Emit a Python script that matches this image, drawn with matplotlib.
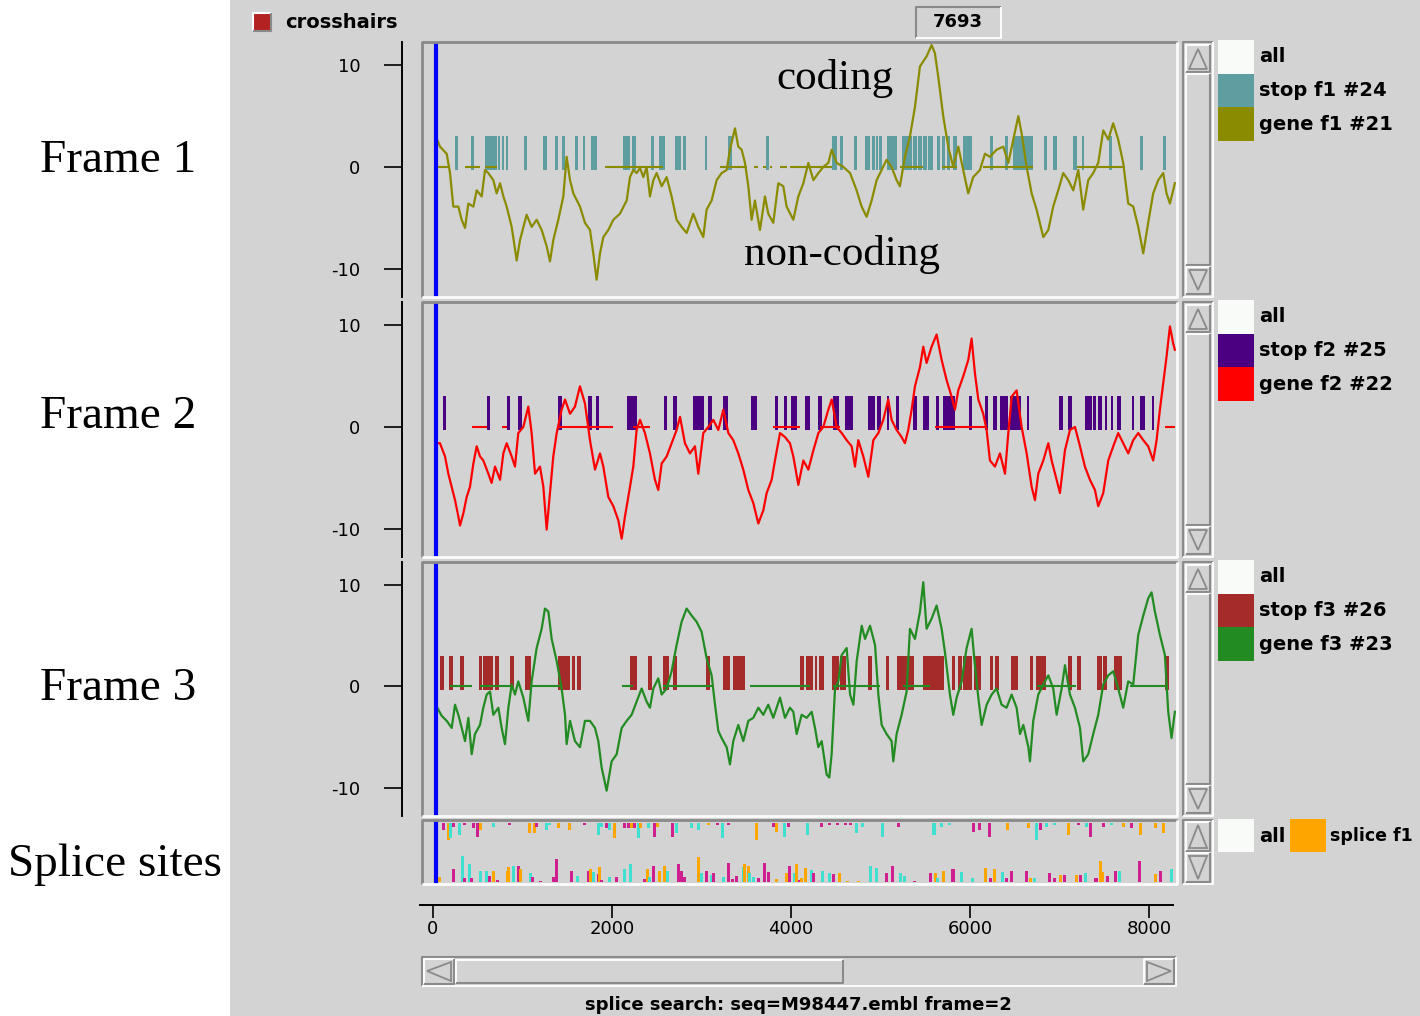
import matplotlib
matplotlib.use("Agg")
import matplotlib.pyplot as plt
import matplotlib.patches as patches

W, H = 1420, 1016
plt.rcParams['axes.unicode_minus'] = False
plt.rcParams['font.family'] = ['DejaVu Sans']

# ---- data (positions in bp) ----
cross_x = 34

f1_trace = [(41, 2.8), (78, 2.0), (153, 1.3), (190, -0.6), (227, -3.9), (283, -3.9), (320, -5.2), (358, -6.0),
            (395, -3.6), (451, -3.9), (488, -2.3), (544, -2.9), (581, -0.3), (618, -0.6), (674, -1.3), (711, -2.6),
            (749, -1.6), (786, -2.9), (823, -3.9), (879, -5.9), (935, -9.2), (972, -7.2), (1046, -4.7), (1102, -5.9),
            (1158, -5.2), (1214, -6.2), (1270, -7.8), (1307, -9.3), (1344, -7.2), (1400, -5.2), (1456, -2.9),
            (1493, 1.0), (1531, -1.3), (1568, -2.6), (1642, -3.9), (1698, -5.5), (1754, -6.2), (1791, -8.5),
            (1828, -11.1), (1866, -8.5), (1903, -6.9), (1959, -6.2), (2015, -5.2), (2089, -4.6), (2164, -3.3),
            (2201, -1.0), (2238, -0.3), (2275, -0.6), (2313, -0.1), (2350, -1.0), (2387, 0.0), (2424, -2.9),
            (2462, -1.3), (2499, -0.6), (2555, -1.9), (2611, -1.0), (2666, -2.9), (2722, -5.2), (2778, -5.9),
            (2834, -6.5), (2908, -4.6), (2964, -5.9), (3020, -6.9), (3057, -4.2), (3113, -3.3), (3169, -1.3),
            (3225, -0.6), (3281, -0.3), (3318, 1.7), (3374, 3.8), (3411, 2.0), (3448, 1.7), (3486, 0.4),
            (3523, -1.9), (3560, -5.2), (3597, -3.3), (3653, -6.2), (3709, -2.9), (3746, -4.6), (3802, -5.5),
            (3858, -1.6), (3914, -1.9), (3951, -3.9), (4026, -5.2), (4082, -2.9), (4138, -1.6), (4194, 0.4),
            (4250, -1.3), (4306, -0.6), (4361, 0.0), (4417, 0.4), (4455, 1.7), (4510, 0.4), (4585, 0.0),
            (4660, -0.6), (4733, -2.3), (4789, -3.9), (4845, -4.9), (4901, -3.3), (4957, -1.3), (5013, -0.3),
            (5068, 0.7), (5124, 0.0), (5180, -1.3), (5217, -1.9), (5273, 1.0), (5329, 3.0), (5385, 5.9),
            (5441, 9.9), (5516, 10.9), (5571, 12.0), (5608, 11.2), (5645, 8.9), (5701, 5.0), (5757, 2.0),
            (5813, 0.0), (5869, 2.0), (5925, -0.3), (5980, -2.6), (6036, -1.0), (6111, -0.3), (6167, 1.3),
            (6223, 1.0), (6297, 1.7), (6372, 2.0), (6428, 0.4), (6484, 2.7), (6540, 5.0), (6577, 3.3), (6633, 0.0),
            (6689, -2.6), (6744, -4.2), (6819, -6.9), (6875, -6.2), (6930, -3.9), (6986, -2.3), (7042, -0.6),
            (7098, -1.3), (7154, -2.3), (7210, -0.3), (7265, -4.2), (7321, -1.3), (7377, -0.6), (7433, 0.4),
            (7489, 3.6), (7545, 2.7), (7600, 4.3), (7656, 2.7), (7712, 0.4), (7768, -3.6), (7824, -3.9),
            (7880, -5.9), (7936, -8.5), (7991, -5.5), (8047, -2.6), (8103, -1.3), (8159, -0.6), (8196, -2.6),
            (8234, -3.6), (8289, -1.6)]

f2_trace = [(48, -1.6), (78, -1.6), (134, -2.9), (171, -4.6), (209, -5.9), (246, -7.2), (283, -8.8), (302, -9.7),
            (339, -8.5), (376, -6.9), (413, -5.9), (451, -3.6), (488, -1.9), (525, -2.9), (562, -3.3), (618, -4.6),
            (655, -5.5), (693, -3.9), (749, -5.2), (786, -2.6), (823, -1.6), (879, -2.9), (916, -3.9), (953, -0.6),
            (1009, 0.0), (1065, 2.0), (1102, -0.6), (1140, -4.6), (1195, -3.9), (1233, -5.9), (1270, -10.1),
            (1307, -6.5), (1344, -2.9), (1382, -0.6), (1437, 1.7), (1475, 2.7), (1531, 1.3), (1586, 2.0),
            (1642, 4.0), (1698, 2.3), (1754, -1.3), (1810, -4.2), (1866, -2.6), (1903, -3.9), (1959, -6.9),
            (2015, -7.8), (2071, -9.2), (2108, -11.0), (2145, -8.8), (2201, -5.9), (2238, -3.9), (2275, -0.3),
            (2313, 0.7), (2368, -0.6), (2424, -2.6), (2480, -5.2), (2517, -6.2), (2555, -3.6), (2611, -2.9),
            (2666, -1.6), (2722, -0.3), (2760, 1.0), (2815, -1.6), (2871, -2.6), (2927, -1.9), (2964, -4.6),
            (3020, -0.6), (3076, 0.0), (3132, 0.7), (3188, -0.3), (3244, 1.7), (3300, -0.6), (3355, -1.3),
            (3411, -2.6), (3467, -4.2), (3523, -6.2), (3579, -7.5), (3635, -9.5), (3691, -8.2), (3728, -6.5),
            (3784, -5.2), (3821, -3.3), (3877, -0.6), (3933, -1.0), (3988, -1.6), (4026, -2.9), (4082, -5.7),
            (4138, -3.3), (4194, -4.2), (4250, -2.3), (4306, -0.6), (4361, 0.0), (4417, 1.7), (4455, 2.7),
            (4510, 0.0), (4566, -0.6), (4622, -1.3), (4678, -1.9), (4715, -3.9), (4752, -1.3), (4808, -2.9),
            (4864, -4.9), (4920, -1.3), (4976, -0.6), (5031, 0.7), (5087, 2.7), (5124, 0.7), (5180, -0.3),
            (5236, -1.0), (5273, -1.6), (5310, -0.3), (5348, 1.7), (5385, 4.0), (5441, 5.9), (5478, 7.9),
            (5515, 6.3), (5571, 7.9), (5627, 9.1), (5683, 6.6), (5739, 4.6), (5794, 3.0), (5832, 1.7), (5869, 3.6),
            (5925, 5.0), (5981, 6.6), (6018, 8.7), (6055, 5.3), (6093, 2.7), (6148, 1.3), (6186, -0.3),
            (6223, -3.3), (6279, -3.9), (6335, -2.6), (6391, -4.6), (6428, -0.6), (6466, 3.0), (6521, 3.6),
            (6577, 0.0), (6633, -2.6), (6689, -5.9), (6726, -7.2), (6763, -4.6), (6819, -3.3), (6875, -1.6),
            (6912, -3.3), (6968, -5.2), (7005, -6.5), (7061, -2.3), (7117, -0.3), (7173, 0.0), (7229, -1.9),
            (7284, -3.9), (7340, -5.2), (7396, -6.2), (7433, -7.8), (7489, -6.5), (7545, -3.3), (7601, -1.9),
            (7656, -0.6), (7712, -1.6), (7768, -2.6), (7824, -1.3), (7880, -0.6), (7936, -1.3), (7991, -1.9),
            (8047, -3.3), (8085, -1.3), (8122, 1.7), (8159, 4.3), (8196, 6.9), (8234, 9.9), (8271, 8.2),
            (8289, 7.6)]

f3_trace = [(48, -2.1), (97, -2.9), (153, -3.4), (209, -4.1), (246, -1.8), (283, -2.8), (320, -4.1), (358, -5.4),
            (395, -3.1), (432, -6.7), (469, -4.7), (525, -3.8), (562, -2.1), (600, -0.8), (637, -0.5), (674, -2.8),
            (730, -2.1), (767, -4.1), (804, -5.7), (842, -2.1), (879, 0.2), (916, -0.8), (953, 0.5), (1009, -1.1),
            (1065, -3.4), (1102, 0.5), (1158, 3.8), (1214, 5.7), (1251, 7.7), (1289, 7.4), (1326, 4.7), (1382, 2.5),
            (1437, -0.2), (1475, -2.8), (1493, -5.7), (1531, -3.4), (1586, -5.4), (1642, -6.0), (1698, -3.4),
            (1754, -3.4), (1810, -4.1), (1847, -5.4), (1884, -8.0), (1940, -10.3), (1996, -7.4), (2052, -6.7),
            (2108, -4.1), (2164, -3.4), (2219, -2.8), (2275, -1.5), (2331, -0.2), (2387, -1.5), (2424, -2.1),
            (2462, -0.2), (2517, 0.8), (2555, -0.8), (2611, -0.2), (2666, 1.5), (2722, 4.1), (2778, 6.4),
            (2834, 7.7), (2890, 7.0), (2945, 6.4), (3001, 5.4), (3057, 2.8), (3113, 1.1), (3151, -1.8), (3188, -4.4),
            (3225, -5.1), (3281, -6.0), (3318, -7.7), (3355, -5.4), (3411, -3.8), (3467, -5.4), (3523, -3.4),
            (3579, -3.1), (3635, -2.1), (3691, -2.8), (3746, -1.8), (3802, -3.1), (3877, -1.1), (3933, -3.1),
            (3988, -2.1), (4026, -2.5), (4063, -4.7), (4119, -2.8), (4175, -3.1), (4231, -2.5), (4268, -4.1),
            (4305, -6.0), (4343, -5.4), (4398, -8.7), (4428, -9.0), (4454, -6.7), (4492, -0.2), (4529, 0.5),
            (4566, 3.1), (4622, 3.8), (4660, -0.8), (4697, -1.8), (4734, 2.5), (4790, 6.0), (4827, 4.7),
            (4883, 6.0), (4939, 4.1), (4976, -0.8), (5013, -3.8), (5068, -4.7), (5124, -5.4), (5143, -7.4),
            (5180, -4.7), (5236, -2.8), (5292, -0.5), (5329, 5.7), (5385, 4.7), (5441, 7.4), (5478, 10.3),
            (5515, 5.7), (5571, 6.7), (5627, 8.0), (5683, 5.7), (5720, 3.4), (5776, -0.8), (5813, -2.8),
            (5851, -1.1), (5907, 0.5), (5962, 3.8), (6018, 5.7), (6055, 2.1), (6093, -1.1), (6130, -3.8),
            (6186, -1.8), (6242, -0.8), (6297, -0.2), (6353, -1.8), (6409, -2.1), (6465, -0.8), (6521, -2.1),
            (6559, -4.7), (6596, -3.8), (6652, -6.0), (6670, -7.4), (6707, -3.4), (6763, -0.8), (6819, 0.2),
            (6875, 1.1), (6930, -0.2), (6968, -2.8), (7024, -0.2), (7061, 2.1), (7117, -0.8), (7173, -2.1),
            (7229, -4.1), (7266, -7.4), (7321, -6.7), (7377, -4.7), (7433, -2.8), (7489, 0.2), (7545, 1.1),
            (7601, 1.5), (7656, -0.2), (7712, -2.1), (7768, 0.5), (7824, 0.2), (7880, 5.1), (7936, 7.0),
            (7991, 8.7), (8029, 9.3), (8066, 7.4), (8122, 5.1), (8178, 3.1), (8215, -2.5), (8252, -5.1),
            (8289, -2.5)]

# stop codons (start, end)
stops_f1 = [(246, 280), (425, 455), (581, 715), (726, 749), (771, 793), (816, 838), (1017, 1050), (1229, 1274),
            (1363, 1397), (1441, 1475), (1587, 1620), (1676, 1698), (1765, 1832), (2123, 2201), (2223, 2268),
            (2436, 2469), (2525, 2592), (2704, 2771), (2793, 2827), (3039, 3061), (3296, 3341), (3721, 3754),
            (4458, 4514), (4547, 4581), (4704, 4737), (4827, 4883), (4905, 4939), (4950, 4972), (4983, 5017),
            (5073, 5184), (5240, 5352), (5363, 5408), (5419, 5464), (5475, 5520), (5531, 5587), (5631, 5665),
            (5687, 5721), (5743, 5777), (5810, 5855), (5922, 6022), (6223, 6257), (6391, 6425), (6480, 6704),
            (6827, 6860), (6927, 6972), (7151, 7196), (7251, 7274), (7553, 7587), (7899, 7933), (8156, 8190)]
stops_f2 = [(108, 145), (600, 637), (823, 860), (953, 991), (1400, 1437), (1735, 1773), (1821, 1858), (2164, 2283),
            (2581, 2618), (2685, 2722), (2908, 3028), (3076, 3113), (3244, 3300), (3549, 3624), (3821, 3858),
            (3921, 3959), (4000, 4070), (4156, 4212), (4305, 4343), (4473, 4540), (4603, 4689), (4863, 4938),
            (4964, 5001), (5068, 5098), (5173, 5210), (5366, 5404), (5471, 5545), (5620, 5657), (5702, 5832),
            (5992, 6018), (6167, 6204), (6253, 6297), (6334, 6364), (6372, 6428), (6446, 6565), (6633, 6663),
            (6997, 7034), (7098, 7135), (7284, 7359), (7377, 7407), (7433, 7470), (7508, 7526), (7571, 7601),
            (7638, 7683), (7806, 7835), (7899, 7955), (8029, 8059)]
stops_f3 = [(78, 123), (182, 227), (302, 346), (514, 551), (562, 674), (693, 741), (860, 905), (1028, 1091),
            (1400, 1531), (1549, 1586), (1605, 1650), (2201, 2275), (2406, 2450), (2573, 2640), (2678, 2722),
            (3050, 3095), (3236, 3318), (3355, 3486), (4100, 4145), (4167, 4249), (4268, 4294), (4316, 4369),
            (4454, 4540), (4547, 4614), (4864, 4901), (5061, 5091), (5180, 5374), (5471, 5709), (5795, 5832),
            (5869, 5906), (5925, 6018), (6044, 6119), (6223, 6260), (6279, 6327), (6454, 6539), (6670, 6707),
            (6737, 6849), (7098, 7135), (7198, 7236), (7422, 7470), (7489, 7526), (7608, 7694), (8178, 8226)]

# open stretches drawn on the zero line (start, end)
open_f1 = [(45, 190), (358, 525), (581, 715), (1922, 2280), (2235, 2570), (3207, 3508), (3590, 3630), (3690, 3720),
           (3760, 3790), (3880, 3950), (3989, 4458), (5218, 5475), (5690, 5855), (6145, 6704), (7196, 7732)]
open_f2 = [(432, 600), (767, 823), (1411, 2015), (2238, 2424), (3802, 4100), (4324, 4547), (5610, 6190),
           (8180, 8290)]
open_f3 = [(190, 432), (525, 860), (1084, 1419), (2108, 2238), (2573, 3113), (3541, 4212), (4473, 4994),
           (5254, 5552), (6745, 7190), (7787, 8196)]

# splice sites: (position, score, kind)  m = magenta, c = turquoise, o = orange
splice_top = [(97, 7.3, 'm'), (153, 17.3, 'o'), (182, 15.7, 'c'), (209, 4, 'm'), (283, 12.3, 'c'), (339, 2.3, 'm'),
              (432, 5.7, 'm'), (480, 14, 'm'), (518, 7.3, 'o'), (655, 4, 'c'), (842, 2.3, 'm'), (1065, 10.7, 'o'),
              (1113, 10.7, 'o'), (1140, 4, 'm'), (1251, 7.3, 'c'), (1289, 2.3, 'c'), (1382, 5.7, 'o'),
              (1512, 7.3, 'o'), (1680, 2, 'm'), (1828, 12.3, 'c'), (1866, 4, 'c'), (1922, 5.7, 'm'),
              (1959, 7.3, 'c'), (2015, 15.7, 'o'), (2126, 5.7, 'm'), (2164, 5.7, 'm'), (2201, 5.7, 'o'),
              (2238, 5.7, 'm'), (2275, 15.7, 'c'), (2305, 5.7, 'o'), (2387, 5.7, 'c'), (2462, 14, 'm'),
              (2491, 4, 'o'), (2655, 14, 'm'), (2704, 10.7, 'c'), (2871, 5.7, 'c'), (2953, 7.3, 'c'),
              (3057, 2.3, 'o'), (3162, 2.3, 'm'), (3214, 15.7, 'c'), (3281, 2.3, 'm'), (3597, 17.3, 'o'),
              (3784, 4, 'm'), (3821, 9, 'o'), (3914, 14, 'c'), (3951, 4, 'm'), (4167, 12.3, 'c'), (4322, 4, 'm'),
              (4410, 2, 'm'), (4499, 2, 'm'), (4587, 2.3, 'm'), (4653, 2, 'm'), (4720, 10.7, 'c'), (4786, 4, 'c'),
              (5007, 14, 'c'), (5183, 4, 'm'), (5581, 12.3, 'c'), (5669, 4, 'c'), (5758, 2.3, 'c'), (6023, 9, 'm'),
              (6089, 7.3, 'm'), (6199, 14, 'm'), (6398, 7.3, 'o'), (6641, 5.7, 'o'), (6729, 17.3, 'c'),
              (6773, 7.3, 'm'), (6840, 4, 'c'), (6928, 2.3, 'c'), (7083, 12.3, 'o'), (7193, 2.3, 'm'),
              (7281, 4, 'c'), (7325, 14, 'm'), (7480, 4, 'm'), (7568, 2.3, 'c'), (7700, 4, 'o'), (7789, 5.7, 'm'),
              (7891, 12.3, 'o'), (8054, 5.7, 'o'), (8143, 10.7, 'o')]
splice_bottom = [(60, 5, 'o'), (209, 12.3, 'm'), (309, 25.7, 'c'), (331, 3.3, 'm'), (395, 17.7, 'c'),
                 (413, 3.3, 'm'), (518, 11, 'c'), (581, 11, 'c'), (618, 5.7, 'm'), (655, 11, 'o'), (704, 1.7, 'm'),
                 (816, 11, 'o'), (830, 14.3, 'o'), (879, 15.7, 'c'), (935, 15.7, 'm'), (965, 12.3, 'o'),
                 (1076, 9, 'c'), (1091, 5, 'm'), (1188, 1, 'm'), (1326, 4.3, 'm'), (1363, 22.3, 'm'),
                 (1531, 11, 'm'), (1598, 5.7, 'c'), (1717, 11, 'm'), (1746, 12.3, 'o'), (1773, 9.7, 'c'),
                 (1828, 7.7, 'm'), (1847, 14.3, 'o'), (1866, 1.7, 'm'), (1959, 4.3, 'c'), (2033, 4.3, 'm'),
                 (2126, 12.3, 'c'), (2193, 17.7, 'c'), (2342, 2.3, 'm'), (2380, 12.3, 'o'), (2406, 5, 'c'),
                 (2443, 15.7, 'm'), (2517, 11, 'o'), (2573, 15.7, 'o'), (2603, 11, 'c'), (2722, 17.7, 'm'),
                 (2760, 11, 'm'), (2797, 5, 'm'), (2953, 24.3, 'o'), (2983, 9, 'c'), (3039, 11, 'm'),
                 (3095, 6.7, 'c'), (3113, 9, 'm'), (3225, 4.3, 'c'), (3281, 19, 'm'), (3326, 2.3, 'm'),
                 (3374, 5.7, 'm'), (3448, 14.3, 'c'), (3467, 17.7, 'o'), (3504, 15.7, 'o'), (3523, 9, 'c'),
                 (3560, 5, 'c'), (3616, 3.3, 'm'), (3691, 19, 'm'), (3728, 10, 'm'), (3821, 2.3, 'o'),
                 (3933, 9, 'o'), (3970, 15.7, 'm'), (4018, 9, 'c'), (4044, 17.7, 'o'), (4082, 1.7, 'm'),
                 (4101, 3.3, 'o'), (4145, 13.3, 'o'), (4212, 11.7, 'c'), (4234, 8.3, 'm'), (4331, 11, 'c'),
                 (4410, 8.3, 'c'), (4455, 7.7, 'm'), (4521, 8.3, 'o'), (4609, 1, 'o'), (4742, 1, 'o'),
                 (4874, 15.7, 'c'), (4941, 13.3, 'c'), (5051, 8.3, 'm'), (5117, 15.7, 'm'), (5205, 9, 'c'),
                 (5249, 5.7, 'c'), (5360, 1, 'm'), (5537, 8.3, 'm'), (5594, 9, 'o'), (5625, 3.3, 'c'),
                 (5691, 11, 'o'), (5793, 12.3, 'm'), (5890, 10, 'c'), (6009, 3.3, 'c'), (6155, 13.3, 'o'),
                 (6213, 3.3, 'm'), (6257, 12.3, 'o'), (6345, 10, 'c'), (6389, 3.3, 'm'), (6442, 11, 'm'),
                 (6610, 11, 'm'), (6663, 3.3, 'o'), (6707, 3.3, 'c'), (6875, 8.3, 'm'), (6928, 3.3, 'm'),
                 (6994, 6.7, 'o'), (7038, 6.7, 'm'), (7171, 6.7, 'o'), (7215, 6.7, 'm'), (7272, 8.3, 'c'),
                 (7391, 3.3, 'm'), (7436, 21, 'o'), (7467, 10, 'o'), (7524, 5.7, 'm'), (7612, 11, 'm'),
                 (7656, 11, 'c'), (7877, 21, 'm'), (8054, 7.7, 'o'), (8112, 11, 'm'), (8231, 12.3, 'c')]

x_ticks = [0, 2000, 4000, 6000, 8000]
y_ticks = [-10, 0, 10]
legend_f1 = ['all', 'stop f1 #24', 'gene f1 #21']
legend_f2 = ['all', 'stop f2 #25', 'gene f2 #22']
legend_f3 = ['all', 'stop f3 #26', 'gene f3 #23']

# ---- style ----
BG = '#d3d3d3'
ALLBOX = '#f8fbf8'
DARK = '#8a8a8a'
LIGHT = '#fbfbfb'
SPLICE_COL = {'m': '#d02090', 'c': '#40e0d0', 'o': '#ffa500'}
GUI = dict(fontfamily='DejaVu Sans', fontweight='bold', fontsize=14)
SERIF = 'Liberation Serif'
XLIM = (-123, 8313)
YLIM = (-12.8, 12.3)
STOP_LO, STOP_HI = -0.3, 3.0


def box(l, t, r, b):
    return [l / W, 1 - b / H, (r - l) / W, (b - t) / H]


fig = plt.figure(figsize=(W / 100, H / 100), dpi=100, facecolor='white')
fig.add_artist(patches.Rectangle((230 / W, 0), 1 - 230 / W, 1, transform=fig.transFigure,
                                 facecolor=BG, edgecolor='none', zorder=-5))

frames = [
    (f1_trace, stops_f1, open_f1, '#8b8b00', '#5f9ea0', legend_f1, 42, 297),
    (f2_trace, stops_f2, open_f2, '#ff0000', '#4b0082', legend_f2, 302, 557),
    (f3_trace, stops_f3, open_f3, '#228b22', '#a52a2a', legend_f3, 562, 816),
]

for trace, stops, opens, gcol, scol, leg, top, bot in frames:
    ax = fig.add_axes(box(422, top, 1177, bot))
    ax.set_facecolor(BG)
    ax.set_xlim(XLIM)
    ax.set_ylim(YLIM)
    ax.broken_barh([(s, e - s) for s, e in stops], (STOP_LO, STOP_HI - STOP_LO), facecolors=scol, zorder=2)
    ax.hlines([0] * len(opens), [o[0] for o in opens], [o[1] for o in opens], colors=gcol, lw=1.5, zorder=3)
    xs, ys = zip(*trace)
    ax.plot(xs, ys, color=gcol, lw=1.6, zorder=4)
    ax.axvline(cross_x, color='#0000ff', lw=3, zorder=5)
    for s in ['top', 'right', 'bottom']:
        ax.spines[s].set_visible(False)
    ax.spines['left'].set_position(('outward', 14.4))
    ax.spines['left'].set_linewidth(1.4)
    ax.set_xticks([])
    ax.set_yticks(y_ticks)
    ax.set_yticklabels([str(v) for v in y_ticks])
    ax.tick_params(axis='y', direction='out', length=13, width=1.2, pad=17, labelsize=13)

# splice panel
axs = fig.add_axes(box(422, 820, 1177, 884))
axs.set_facecolor(BG)
axs.set_xlim(XLIM)
axs.set_ylim(0, 64)
for pos, sc, k in splice_bottom:
    axs.bar(pos, sc, width=34, bottom=2.3, color=SPLICE_COL[k], align='edge', zorder=2)
for pos, sc, k in splice_top:
    axs.bar(pos, sc, width=34, bottom=61.3 - sc, color=SPLICE_COL[k], align='edge', zorder=2)
axs.axvline(cross_x, color='#0000ff', lw=3, zorder=5)
axs.axis('off')

# x axis
axx = fig.add_axes(box(420, 904, 1173, 905))
axx.patch.set_alpha(0)
axx.set_xlim(-145, 8268)
for s in ['top', 'right', 'left']:
    axx.spines[s].set_visible(False)
axx.spines['bottom'].set_linewidth(1.4)
axx.set_yticks([])
axx.set_xticks(x_ticks)
axx.set_xticklabels([str(v) for v in x_ticks])
axx.tick_params(axis='x', direction='out', length=9.5, width=1.2, pad=1, labelsize=13)

# ---- GUI chrome in pixel coordinates ----
ov = fig.add_axes([0, 0, 1, 1], zorder=10)
ov.set_xlim(0, W)
ov.set_ylim(H, 0)
ov.axis('off')
ov.patch.set_alpha(0)


def bevel(l, t, r, b, sunken=True, lw=1.5):
    tl, br = (DARK, LIGHT) if sunken else (LIGHT, DARK)
    ov.plot([l, l, r], [b, t, t], color=tl, lw=lw, solid_capstyle='butt')
    ov.plot([l, r, r], [b, b, t], color=br, lw=lw, solid_capstyle='butt')


def tri(pts):
    ov.add_patch(patches.Polygon(pts, closed=True, facecolor='none', edgecolor=DARK, lw=1.3))


def vscroll(t, b):
    bevel(1183, t, 1213, b, sunken=True)
    bevel(1186, t + 3, 1210, t + 30, sunken=False)
    tri([(1198, t + 7), (1189, t + 27), (1207, t + 27)])
    bevel(1186, t + 32, 1210, b - 32, sunken=False)
    bevel(1186, b - 30, 1210, b - 3, sunken=False)
    tri([(1198, b - 7), (1189, b - 27), (1207, b - 27)])


# crosshairs checkbox and position box
ov.add_patch(patches.Rectangle((254, 14), 16, 16, facecolor='#b22222', edgecolor='none'))
bevel(253, 13, 271, 31, sunken=False)
ov.text(285, 22, 'crosshairs', va='center', ha='left', **GUI)
bevel(916, 7, 1001, 38, sunken=True)
ov.text(958, 22, '7693', va='center', ha='center', **{**GUI, 'fontsize': 13})

for trace, stops, opens, gcol, scol, leg, top, bot in frames:
    bevel(422, top, 1177, bot, sunken=True, lw=2)
    vscroll(top, bot)
    cols = [ALLBOX, scol, gcol]
    for i, (lab, c) in enumerate(zip(leg, cols)):
        y0 = top - 2 + i * 33.5
        ov.add_patch(patches.Rectangle((1218, y0), 36, 33.5, facecolor=c, edgecolor='none'))
        ov.text(1259, y0 + 17, lab, va='center', ha='left', **GUI)

# splice panel frame, scrollbar and legend
bevel(422, 820, 1177, 884, sunken=True, lw=2)
bevel(1183, 820, 1213, 884, sunken=True)
bevel(1186, 822, 1210, 851, sunken=False)
tri([(1198, 825), (1189, 848), (1207, 848)])
bevel(1186, 853, 1210, 882, sunken=False)
tri([(1198, 879), (1189, 856), (1207, 856)])
ov.add_patch(patches.Rectangle((1218, 819), 36, 33, facecolor=ALLBOX, edgecolor='none'))
ov.text(1259, 836, 'all', va='center', ha='left', **GUI)
ov.add_patch(patches.Rectangle((1290, 819), 36, 33, facecolor=SPLICE_COL['o'], edgecolor='none'))
ov.text(1330, 836, 'splice f1', va='center', ha='left', **{**GUI, 'fontsize': 12.5})

# horizontal scrollbar
bevel(422, 957, 1176, 986, sunken=True)
bevel(424, 959, 454, 984, sunken=False)
tri([(427, 971), (451, 962), (451, 981)])
bevel(456, 960, 843, 983, sunken=False)
bevel(1144, 959, 1174, 984, sunken=False)
tri([(1171, 971), (1147, 962), (1147, 981)])
ov.text(798, 1005, 'splice search: seq=M98447.embl frame=2', va='center', ha='center',
        **{**GUI, 'fontsize': 13})

# annotations
for lab, y in [('Frame 1', 161), ('Frame 2', 417), ('Frame 3', 689)]:
    ov.text(40, y, lab, va='center', ha='left', fontfamily=SERIF, fontsize=34)
ov.text(8, 865, 'Splice sites', va='center', ha='left', fontfamily=SERIF, fontsize=34)
ov.text(835, 78, 'coding', va='center', ha='center', fontfamily=SERIF, fontsize=31)
ov.text(842, 254, 'non-coding', va='center', ha='center', fontfamily=SERIF, fontsize=31)

fig.savefig('out.png', dpi=100, facecolor=fig.get_facecolor())
